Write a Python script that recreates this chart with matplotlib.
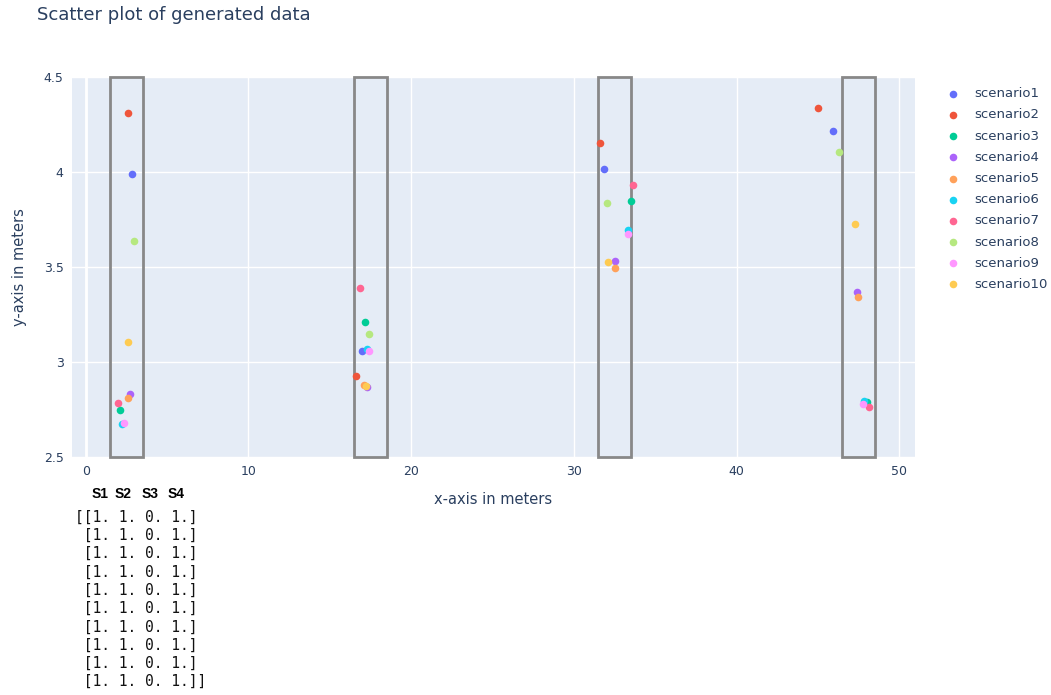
import matplotlib
matplotlib.use("Agg")
import matplotlib.pyplot as plt
from matplotlib.patches import Rectangle

scenarios = ["scenario1", "scenario2", "scenario3", "scenario4", "scenario5",
             "scenario6", "scenario7", "scenario8", "scenario9", "scenario10"]
colors = ["#636EFA", "#EF553B", "#00CC96", "#AB63FA", "#FFA15A",
          "#19D3F3", "#FF6692", "#B6E880", "#FF97FF", "#FECB52"]

# x/y per scenario, one value per cluster (4 clusters)
x_s1 = [2.87, 16.97, 31.84, 45.92]
y_s1 = [3.99, 3.056, 4.016, 4.216]
x_s2 = [2.60, 16.64, 31.58, 45.02]
y_s2 = [4.312, 2.926, 4.151, 4.337]
x_s3 = [2.11, 17.15, 33.50, 48.01]
y_s3 = [2.747, 3.212, 3.849, 2.788]
x_s4 = [2.71, 17.32, 32.52, 47.40]
y_s4 = [2.833, 2.868, 3.532, 3.370]
x_s5 = [2.58, 17.10, 32.56, 47.48]
y_s5 = [2.809, 2.880, 3.496, 3.344]
x_s6 = [2.23, 17.27, 33.32, 47.83]
y_s6 = [2.674, 3.068, 3.695, 2.795]
x_s7 = [1.99, 16.86, 33.62, 48.13]
y_s7 = [2.786, 3.388, 3.932, 2.765]
x_s8 = [2.99, 17.40, 32.05, 46.29]
y_s8 = [3.638, 3.147, 3.839, 4.107]
x_s9 = [2.34, 17.40, 33.34, 47.78]
y_s9 = [2.680, 3.058, 3.674, 2.777]
x_s10 = [2.60, 17.20, 32.09, 47.31]
y_s10 = [3.107, 2.875, 3.525, 3.728]

xs = [x_s1, x_s2, x_s3, x_s4, x_s5, x_s6, x_s7, x_s8, x_s9, x_s10]
ys = [y_s1, y_s2, y_s3, y_s4, y_s5, y_s6, y_s7, y_s8, y_s9, y_s10]

# highlight boxes: (x0, x1), spanning full y range
box_x0 = [1.5, 16.5, 31.5, 46.5]
box_x1 = [3.5, 18.5, 33.5, 48.5]
box_y0, box_y1 = 2.5, 4.5

header = ["S1", "S2", "S3", "S4"]
matrix_rows = [[1., 1., 0., 1.]] * 10

txt = "#2a3f5f"
fig = plt.figure(figsize=(10.51, 6.95), dpi=100)
ax = fig.add_axes([72/1051, 1-457/695, 843/1051, 380/695])
ax.set_facecolor("#E5ECF6")
for s in ax.spines.values():
    s.set_visible(False)
ax.set_xlim(-0.84, 50.97)
ax.set_ylim(2.5, 4.5)
ax.set_xticks([0, 10, 20, 30, 40, 50])
ax.set_yticks([2.5, 3, 3.5, 4, 4.5])
ax.set_yticklabels(["2.5", "3", "3.5", "4", "4.5"])
ax.grid(True, color="white", linewidth=1)
ax.axvline(0, color="white", linewidth=2, zorder=1)
ax.set_axisbelow(True)
ax.tick_params(length=0, labelsize=9, colors=txt, pad=6)
ax.set_xlabel("x-axis in meters", fontsize=10.5, color=txt, labelpad=10)
ax.set_ylabel("y-axis in meters", fontsize=10.5, color=txt, labelpad=12)

for x0, x1 in zip(box_x0, box_x1):
    ax.add_patch(Rectangle((x0, box_y0), x1 - x0, box_y1 - box_y0, fill=False,
                           edgecolor="#888888", linewidth=2, zorder=3, clip_on=False))

for name, c, x, y in zip(scenarios, colors, xs, ys):
    ax.scatter(x, y, s=30, color=c, label=name, zorder=4, linewidths=0)

leg = ax.legend(loc="upper left", bbox_to_anchor=((935 - 72)/843, 1 - 5/380),
                frameon=False, fontsize=9.5, labelcolor=txt, handletextpad=0.6,
                labelspacing=0.62, markerscale=1.0, borderaxespad=0)

fig.text(37/1051, 1-15/695, "Scatter plot of generated data", fontsize=13,
         color=txt, va="center", ha="left")

header_px = [92, 115, 142, 168]
for h, px in zip(header, header_px):
    fig.text(px/1051, 1-494/695, h, fontsize=10, fontweight="bold",
             family="Liberation Sans", va="center", ha="left", color="black")

lines = []
for i, row in enumerate(matrix_rows):
    body = "[" + " ".join(f"{v:.0f}." for v in row) + "]"
    if i == 0:
        lines.append("[" + body)
    elif i == len(matrix_rows) - 1:
        lines.append(" " + body + "]")
    else:
        lines.append(" " + body)
for i, ln in enumerate(lines):
    fig.text(75/1051, 1-(517 + i*18.3)/695, ln, fontsize=10.5,
             family="DejaVu Sans Mono", va="center", ha="left", color="#111111")

fig.savefig("out.png", dpi=100, facecolor="white")
